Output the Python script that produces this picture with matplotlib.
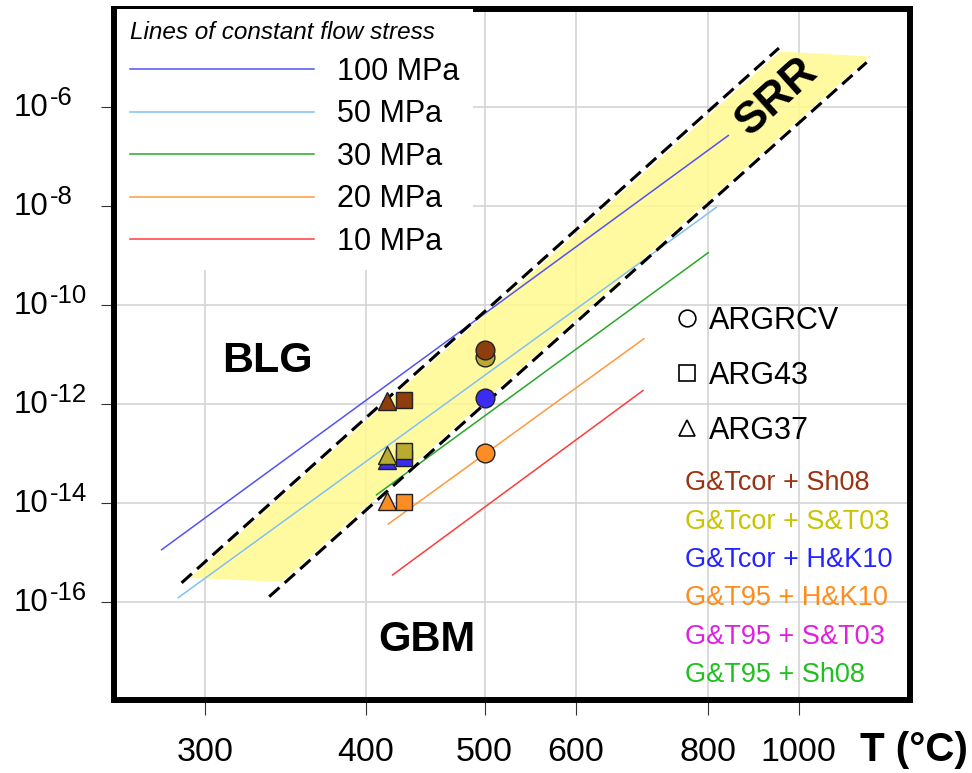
import numpy as np
import matplotlib
matplotlib.use("Agg")
import matplotlib.pyplot as plt
from matplotlib.lines import Line2D
from matplotlib.ticker import NullLocator

plt.rcParams['font.family'] = ['Liberation Sans', 'DejaVu Sans']

# axis ticks: temperature in deg C, strain rate decades
t_ticks = [300, 400, 500, 600, 800, 1000]
rate_exps = [-6, -8, -10, -12, -14, -16]

# lines of constant flow stress, end points (T deg C, log10 strain rate)
stress_labels = ['100 MPa', '50 MPa', '30 MPa', '20 MPa', '10 MPa']
stress_colors = ['#5353f2', '#80c0f6', '#27a827', '#ff9a3c', '#ff3b3b']
stress_T = [[277.6, 839.0], [285.9, 816.0], [408.0, 800.3], [417.0, 692.5], [420.3, 691.0]]
stress_lograte = [[-14.95, -6.57], [-15.92, -8.02], [-13.84, -8.94], [-14.43, -10.68], [-15.46, -11.73]]

# SRR field
srr_T = [291.9, 953.0, 1219.0, 343.7]
srr_lograte = [-15.52, -4.87, -4.97, -15.60]
srr_upper_T = [287.6, 950.5]
srr_upper_lograte = [-15.62, -4.80]
srr_lower_T = [336.0, 1207.5]
srr_lower_lograte = [-15.90, -5.09]

# samples
sample_names = ['ARGRCV', 'ARG43', 'ARG37']
sample_markers = ['o', 's', '^']
sample_sizes = [13.5, 11.5, 13]
sample_T = [500, 429, 416]

# piezometer / flow law combinations
calib_labels = ['G&Tcor + Sh08', 'G&Tcor + S&T03', 'G&Tcor + H&K10',
                'G&T95 + H&K10', 'G&T95 + S&T03', 'G&T95 + Sh08']
calib_text_colors = ['#993311', '#c8c400', '#2424ff', '#ff8c1a', '#e020e0', '#20c020']
calib_marker_colors = ['#8e3d0c', '#b9aa30', '#3a2cf2', '#fb8d24']

# log10 strain rate per sample, one value per calibration (first four)
rate_argrcv = [-10.91, -11.05, -11.89, -13.00]
rate_arg43 = [-11.92, -12.96, -13.10, -13.98]
rate_arg37 = [-11.95, -13.03, -13.13, -13.96]
sample_rates = [rate_argrcv, rate_arg43, rate_arg37]


def inv_T(t):
    return -1000.0 / (np.asarray(t, dtype=float) + 273.15)


def from_inv_T(u):
    return -1000.0 / np.asarray(u, dtype=float) - 273.15


fig = plt.figure(figsize=(9.72, 7.73), dpi=100)
ax = fig.add_axes([0.1168, 0.0938, 0.8194, 0.8952])
ax.set_xscale('function', functions=(inv_T, from_inv_T))
ax.set_yscale('log')
ax.set_xlim(255, 1379)
ax.set_ylim(1e-18, 1e-4)

# SRR band
ax.fill(srr_T, 10.0 ** np.array(srr_lograte), color='#fff98f', alpha=0.85, lw=0, zorder=1)

# flow stress lines
stress_handles = []
for T, lr, c, lab in zip(stress_T, stress_lograte, stress_colors, stress_labels):
    h, = ax.plot(T, 10.0 ** np.array(lr), color=c, lw=1.1, label=lab, zorder=3)
    stress_handles.append(h)

ax.plot(srr_upper_T, 10.0 ** np.array(srr_upper_lograte), color='k', lw=2.2,
        dashes=(4.5, 2.3), zorder=3.5)
ax.plot(srr_lower_T, 10.0 ** np.array(srr_lower_lograte), color='k', lw=2.2,
        dashes=(4.5, 2.3), zorder=3.5)

# sample points, drawn so the first calibration ends up on top
for T, m, ms, rates in zip(sample_T, sample_markers, sample_sizes, sample_rates):
    for i in reversed(range(len(rates))):
        ax.plot([T], [10.0 ** rates[i]], ls='none', marker=m, ms=ms,
                mfc=calib_marker_colors[i], mec='#222222', mew=1.0, zorder=4)

# axes styling
for sp in ax.spines.values():
    sp.set_linewidth(4.3)
ax.set_axisbelow(True)
ax.grid(True, color='#d4d4d4', lw=1.2)
ax.set_xticks(t_ticks)
ax.set_xticklabels([str(t) for t in t_ticks])
ax.xaxis.set_minor_locator(NullLocator())
ax.set_yticks([10.0 ** e for e in rate_exps])
ax.set_yticklabels([])
ax.yaxis.set_minor_locator(NullLocator())
ax.tick_params(axis='x', direction='out', length=11, width=0.8, color='#333333',
               pad=15, labelsize=24.5)
ax.tick_params(axis='y', direction='out', length=9.5, width=0.8, color='#333333')

# power-of-ten labels with a plain hyphen in the exponent
for e in rate_exps:
    ax.annotate('10', xy=(0, 10.0 ** e), xycoords=('axes fraction', 'data'),
                xytext=(-99.5, -1), textcoords='offset pixels', ha='left', va='center',
                fontsize=22.5)
    ax.annotate('-%d' % abs(e), xy=(0, 10.0 ** e), xycoords=('axes fraction', 'data'),
                xytext=(-63.5, 9), textcoords='offset pixels', ha='left', va='center',
                fontsize=18.5)

leg1 = ax.legend(handles=stress_handles, loc='upper left', bbox_to_anchor=(0.004, 1),
                 borderaxespad=0.0, fontsize=22, title='Lines of constant flow stress',
                 title_fontproperties={'size': 17.5, 'style': 'italic'}, alignment='left',
                 handlelength=6.05, handletextpad=0.75, labelspacing=0.41,
                 frameon=True, fancybox=False, framealpha=1, edgecolor='none',
                 facecolor='white', borderpad=0.42)
ax.add_artist(leg1)

sample_handles = [Line2D([], [], ls='none', marker=m, ms=12, mfc='none', mec='k', mew=1.2)
                  for m in sample_markers]
ax.legend(sample_handles, sample_names, loc='upper left', bbox_to_anchor=(0.705, 0.570),
          borderaxespad=0, borderpad=0, frameon=False, fontsize=22,
          handlelength=0.8, handletextpad=0.3, labelspacing=0.82)

for k, (lab, c) in enumerate(zip(calib_labels, calib_text_colors)):
    ax.text(0.7175, 0.3140 - k * 0.0554, lab, color=c, fontsize=19.5,
            va='center', transform=ax.transAxes)

ax.text(0.1932, 0.4747, 'BLG', fontsize=31, fontweight='bold', ha='center',
        va='baseline', transform=ax.transAxes)
ax.text(0.393, 0.0715, 'GBM', fontsize=30, fontweight='bold', ha='center',
        va='baseline', transform=ax.transAxes)
ax.text(0.8330, 0.8721, 'SRR', fontsize=32, fontweight='bold', ha='center',
        va='center', rotation=42, rotation_mode='anchor', transform=ax.transAxes, zorder=5)

fig.text(914 / 972, (773 - 750) / 773, 'T (°C)', fontsize=29, fontweight='bold',
         ha='center', va='center')

fig.savefig('out.png', dpi=100)
